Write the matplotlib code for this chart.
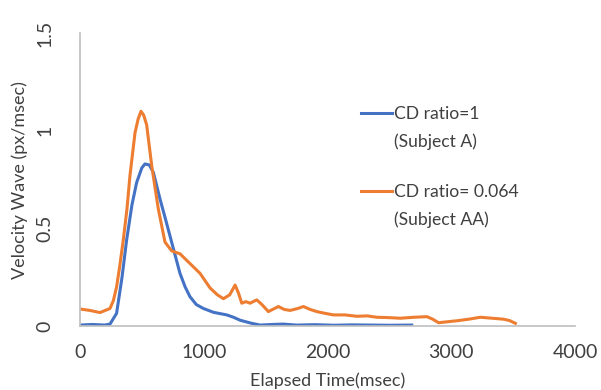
import matplotlib
matplotlib.use("Agg")
import matplotlib.pyplot as plt
from matplotlib.lines import Line2D

plt.rcParams['font.family'] = ['Lato', 'DejaVu Sans']

# Subject A, CD ratio = 1
time_a = [0, 100, 200, 243, 296, 340, 377, 420, 458, 500, 525, 560, 593, 647, 690, 728,
          770, 808, 850, 889, 940, 997, 1080, 1186, 1240, 1293, 1380, 1455, 1550, 1640,
          1750, 1900, 2050, 2200, 2350, 2500, 2680]
vel_a = [0.005, 0.008, 0.005, 0.01, 0.065, 0.25, 0.44, 0.62, 0.735, 0.81, 0.83, 0.825, 0.787,
         0.65, 0.55, 0.46, 0.36, 0.27, 0.2, 0.15, 0.11, 0.09, 0.07, 0.057, 0.045, 0.03, 0.015,
         0.005, 0.008, 0.01, 0.005, 0.007, 0.004, 0.006, 0.005, 0.004, 0.005]

# Subject AA, CD ratio = 0.064
time_aa = [14, 80, 162, 243, 270, 296, 320, 350, 380, 404, 445, 470, 493, 515, 539, 580,
           633, 687, 741, 808, 889, 970, 1051, 1110, 1159, 1210, 1253, 1280, 1307, 1340,
           1374, 1428, 1470, 1522, 1603, 1650, 1698, 1760, 1805, 1860, 1913, 1980, 2048,
           2140, 2237, 2320, 2398, 2500, 2587, 2700, 2803, 2850, 2897, 2970, 3045, 3140,
           3234, 3330, 3422, 3470, 3517]
vel_aa = [0.086, 0.08, 0.069, 0.09, 0.13, 0.2, 0.3, 0.44, 0.6, 0.77, 0.99, 1.06, 1.1, 1.08,
          1.03, 0.82, 0.6, 0.43, 0.385, 0.37, 0.32, 0.27, 0.195, 0.16, 0.14, 0.16, 0.21,
          0.17, 0.117, 0.125, 0.117, 0.134, 0.11, 0.074, 0.1, 0.085, 0.08, 0.09, 0.1,
          0.085, 0.074, 0.065, 0.057, 0.057, 0.05, 0.052, 0.045, 0.043, 0.04, 0.045, 0.048,
          0.035, 0.017, 0.022, 0.027, 0.035, 0.045, 0.04, 0.035, 0.028, 0.014]

x_ticks = [0, 1000, 2000, 3000, 4000]
y_ticks = [0, 0.5, 1, 1.5]
y_tick_labels = ['0', '0.5', '1', '1.5']

label_a = ['CD ratio=1', '(Subject A)']
label_aa = ['CD ratio= 0.064', '(Subject AA)']

txt = '#404040'
fig = plt.figure(figsize=(6.01, 3.9), dpi=100)
ax = fig.add_axes([0.133, 0.164, 0.824, 0.751])

line_a, = ax.plot(time_a, vel_a, color='#4472C4', lw=2.2)
line_aa, = ax.plot(time_aa, vel_aa, color='#ED7D31', lw=2.2)

ax.set_xlim(0, 4000)
ax.set_ylim(0, 1.5)
ax.set_xticks(x_ticks)
ax.set_yticks(y_ticks)
ax.set_yticklabels(y_tick_labels, rotation=90, va='center')
ax.tick_params(length=0, labelsize=14, colors=txt)
ax.tick_params(axis='x', pad=13)
ax.tick_params(axis='y', pad=19)

for s in ['top', 'right']:
    ax.spines[s].set_visible(False)
for s in ['left', 'bottom']:
    ax.spines[s].set_color('#BFBFBF')
    ax.spines[s].set_linewidth(1.2)

ax.set_xlabel('Elapsed Time(msec)', fontsize=13, color=txt, labelpad=8)
ax.set_ylabel('Velocity Wave (px/msec)', fontsize=13, color=txt, labelpad=6)


def add_legend(line, labels, top):
    blank = Line2D([], [], color='none')
    leg = fig.legend([line, blank], labels, loc='upper left',
                     bbox_to_anchor=(361 / 601, top), frameon=False, fontsize=12.6,
                     handlelength=1.75, handletextpad=0.15, labelspacing=0.65,
                     borderpad=0, borderaxespad=0)
    for t in leg.get_texts():
        t.set_color(txt)
    return leg


add_legend(line_a, label_a, 1 - 106 / 390)
add_legend(line_aa, label_aa, 1 - 184 / 390)

fig.savefig('out.png', dpi=100)
